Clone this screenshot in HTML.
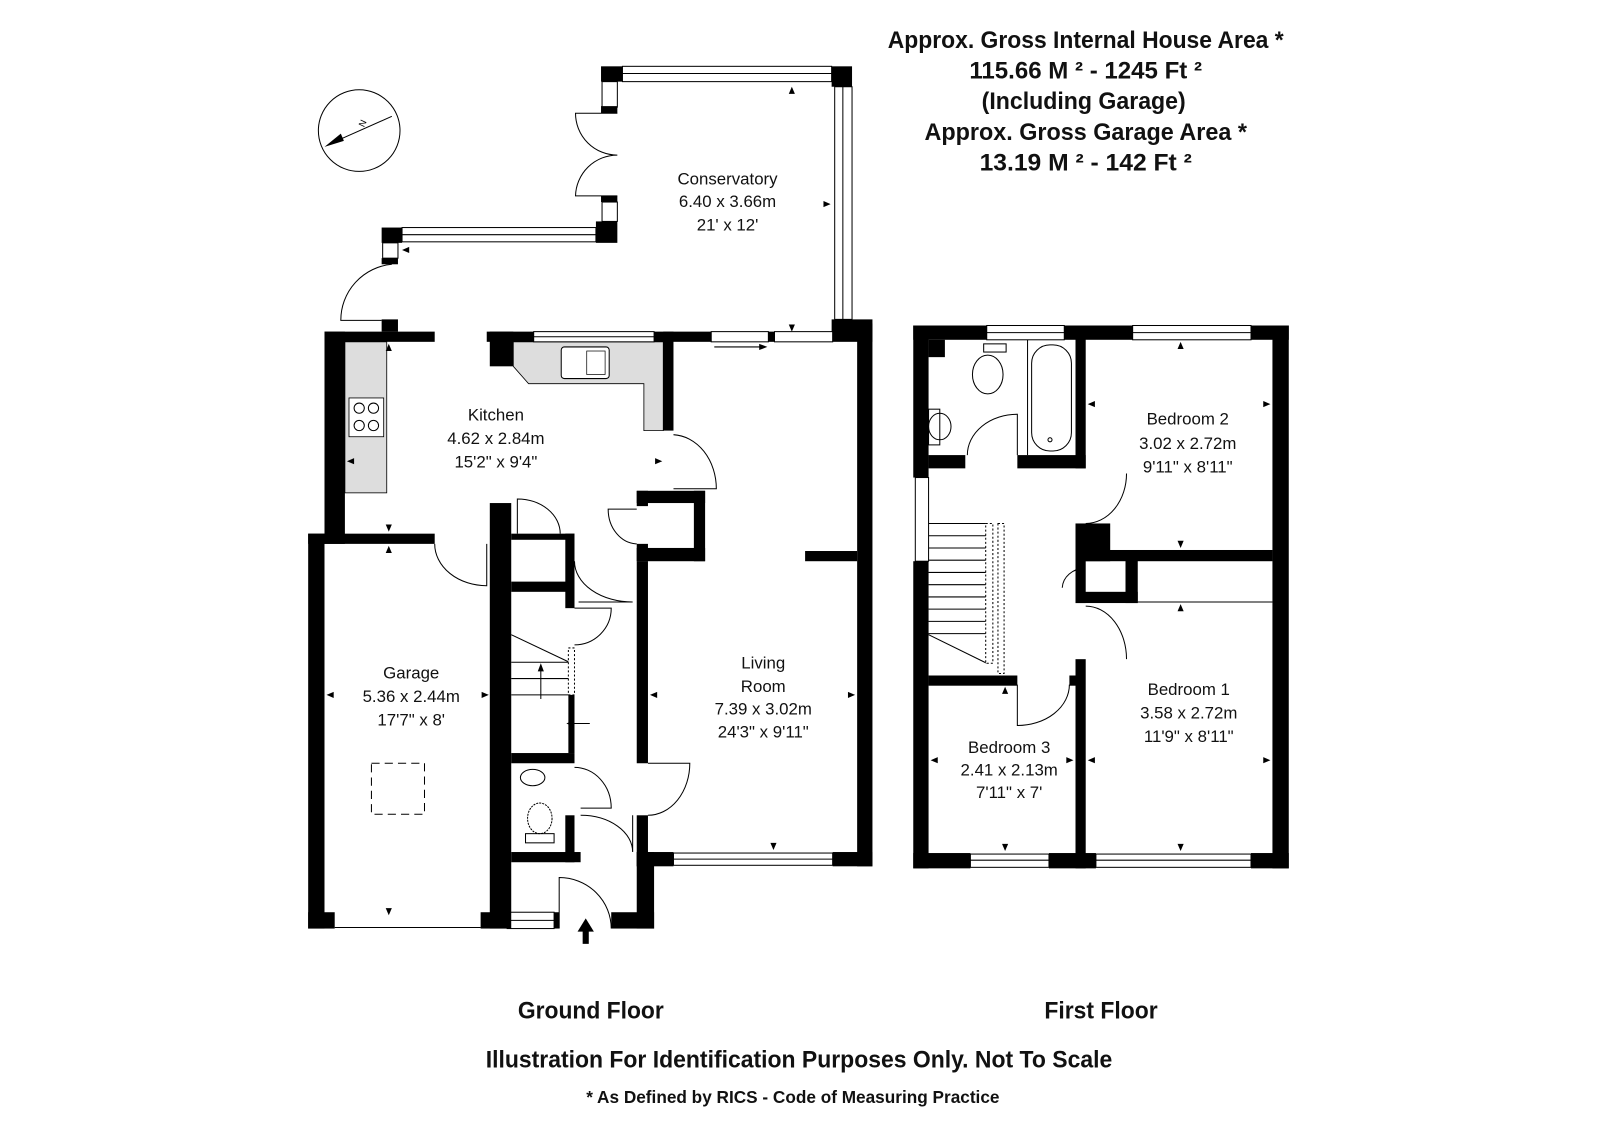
<!DOCTYPE html>
<html><head><meta charset="utf-8"><style>
html,body{margin:0;padding:0;background:#fff;}
svg{display:block;}
.t{font-family:"Liberation Sans Narrow","Liberation Sans",sans-serif;font-weight:bold;fill:#111;text-anchor:middle;}
.r{font-family:"Liberation Sans",sans-serif;fill:#111;text-anchor:middle;font-size:16.5px;}
.w{fill:#000;}
.win{fill:#fff;stroke:#000;stroke-width:1;}
.ln{fill:none;stroke:#000;stroke-width:1;}
.k{fill:#ddd;stroke:#000;stroke-width:0.8;}
</style></head><body>
<svg width="1600" height="1131" viewBox="0 0 1568 1108.4" xmlns="http://www.w3.org/2000/svg">
<rect width="1568" height="1109" fill="#fff"/>

<!-- Headings -->
<text class="t" x="1064" y="47" font-size="24" textLength="388" lengthAdjust="spacingAndGlyphs">Approx. Gross Internal House Area *</text>
<text class="t" x="1064" y="77" font-size="24" textLength="228" lengthAdjust="spacingAndGlyphs">115.66 M ²  -  1245 Ft ²</text>
<text class="t" x="1062" y="107" font-size="24" textLength="200" lengthAdjust="spacingAndGlyphs">(Including Garage)</text>
<text class="t" x="1064" y="137" font-size="24" textLength="316" lengthAdjust="spacingAndGlyphs">Approx. Gross Garage Area *</text>
<text class="t" x="1064" y="167" font-size="24" textLength="208" lengthAdjust="spacingAndGlyphs">13.19 M ²  -  142 Ft ²</text>

<text class="t" x="579" y="998" font-size="24" textLength="143" lengthAdjust="spacingAndGlyphs">Ground Floor</text>
<text class="t" x="1079" y="998" font-size="24" textLength="111" lengthAdjust="spacingAndGlyphs">First Floor</text>
<text class="t" x="783" y="1046" font-size="24" textLength="614" lengthAdjust="spacingAndGlyphs">Illustration For Identification Purposes Only. Not To Scale</text>
<text class="t" x="777" y="1081" font-size="17" textLength="405" lengthAdjust="spacingAndGlyphs">* As Defined by RICS - Code of Measuring Practice</text>

<!-- Compass -->
<circle cx="352" cy="128" r="40" class="ln"/>
<line x1="384" y1="114" x2="330" y2="138" class="ln"/>
<polygon points="318,144 334,131 337,138" fill="#000"/>
<text x="356" y="128" font-size="9" font-family="Liberation Sans" transform="rotate(-65 354 126)">N</text>

<!-- ============ CONSERVATORY ============ -->
<rect class="w" x="589" y="65" width="21" height="15"/>
<rect class="win" x="610" y="65" width="205" height="15"/><line class="ln" x1="610" y1="72" x2="815" y2="72"/>
<rect class="w" x="815" y="65" width="20" height="20"/>
<rect class="win" x="818" y="85" width="17" height="228"/><line class="ln" x1="826" y1="85" x2="826" y2="313"/>
<rect class="w" x="815" y="313" width="40" height="22"/>
<rect class="win" x="590" y="80" width="15" height="25"/><rect class="w" x="589" y="104" width="16" height="7"/>
<path class="ln" d="M605 111 H564 A41 41 0 0 0 605 152 A41 41 0 0 0 564 192 H605"/>
<rect class="w" x="589" y="192" width="16" height="6"/>
<rect class="win" x="590" y="198" width="15" height="19"/>
<rect class="w" x="584" y="217" width="21" height="21"/>
<rect class="win" x="394" y="223" width="190" height="14"/><line class="ln" x1="394" y1="230" x2="584" y2="230"/>
<rect class="w" x="374" y="223" width="20" height="15"/>
<rect class="win" x="375" y="238" width="15" height="15"/>
<rect class="w" x="374" y="253" width="16" height="6"/>
<path class="ln" d="M384 259 A55 55 0 0 0 334 314 H374"/>
<rect class="w" x="374" y="313" width="16" height="12"/>
<text class="r" x="713" y="181">Conservatory</text>
<text class="r" x="713" y="203">6.40 x 3.66m</text>
<text class="r" x="713" y="226">21' x 12'</text>
<polygon points="776,85 773,92 779,92" fill="#000"/>
<polygon points="776,325 773,318 779,318" fill="#000"/>
<polygon points="814,200 807,197 807,203" fill="#000"/>
<polygon points="394,245 401,242 401,248" fill="#000"/>

<!-- ============ GROUND FLOOR ============ -->
<!-- kitchen fittings -->
<rect class="k" x="338" y="335" width="41" height="148"/>
<rect x="342" y="390" width="34" height="38" fill="#fff" stroke="#000" stroke-width="0.8"/>
<circle class="ln" cx="352" cy="400" r="5"/><circle class="ln" cx="366" cy="400" r="5"/>
<circle class="ln" cx="352" cy="417" r="5"/><circle class="ln" cx="366" cy="417" r="5"/>
<path class="k" d="M503 335 H650 V422 H631 V376 H518 L503 359 Z"/>
<rect x="550" y="340" width="47" height="31" rx="3" fill="#fff" stroke="#000"/>
<rect x="575" y="344" width="18" height="23" fill="none" stroke="#000" stroke-width="0.7"/>
<!-- kitchen walls -->
<rect class="w" x="318" y="325" width="108" height="10"/>
<rect class="w" x="318" y="325" width="20" height="208"/>
<rect class="w" x="477" y="325" width="46" height="10"/>
<rect class="w" x="480" y="325" width="23" height="34"/>
<rect class="win" x="523" y="325" width="118" height="10"/><line class="ln" x1="523" y1="330" x2="641" y2="330"/>
<rect class="w" x="641" y="325" width="56" height="10"/>
<rect class="win" x="697" y="325" width="56" height="10"/>
<line class="ln" x1="700" y1="340" x2="745" y2="340"/><polygon points="752,340 744,337 744,343" fill="#000"/>
<rect class="w" x="753" y="325" width="6" height="10"/>
<rect class="win" x="759" y="325" width="57" height="10"/>
<rect class="w" x="650" y="325" width="10" height="97"/>
<path class="ln" d="M660 426 A44 53 0 0 1 702 479 H660"/>
<!-- cupboard box -->
<rect class="w" x="624" y="481" width="67" height="12"/>
<rect class="w" x="680" y="481" width="11" height="69"/>
<rect class="w" x="624" y="537" width="67" height="13"/>
<rect class="w" x="624" y="481" width="11" height="15"/>
<rect class="w" x="624" y="533" width="11" height="17"/>
<path class="ln" d="M624 499 H596 A29 34 0 0 0 624 533"/>
<!-- garage -->
<rect class="w" x="302" y="523" width="124" height="10"/>
<rect class="w" x="302" y="523" width="16" height="387"/>
<path class="ln" d="M426 533 A51 41 0 0 0 477 574 V533"/>
<rect class="w" x="302" y="894" width="26" height="16"/>
<line class="ln" x1="328" y1="909" x2="471" y2="909"/>
<rect class="w" x="471" y="894" width="26" height="16"/>
<rect class="win" x="497" y="894" width="46" height="16"/><line class="ln" x1="497" y1="902" x2="543" y2="902"/>
<rect class="w" x="543" y="894" width="5" height="16"/>
<path class="ln" d="M548 910 V860 A51 50 0 0 1 599 910"/>
<rect class="w" x="599" y="894" width="42" height="16"/>
<rect class="w" x="624" y="835" width="17" height="75"/>
<rect x="364" y="748" width="52" height="50" fill="none" stroke="#000" stroke-dasharray="8,5"/>
<text class="r" x="403" y="665">Garage</text>
<text class="r" x="403" y="688">5.36 x 2.44m</text>
<text class="r" x="403" y="711">17'7" x 8'</text>
<!-- central wall -->
<rect class="w" x="480" y="493" width="21" height="417"/>
<rect class="w" x="501" y="523" width="62" height="6"/>
<rect class="w" x="554" y="523" width="9" height="73"/>
<rect class="w" x="501" y="570" width="62" height="10"/>
<path class="ln" d="M507 523 V489 A42 34 0 0 1 549 523"/>
<path class="ln" d="M563 550 A57 40 0 0 0 620 590 H567"/>
<path class="ln" d="M563 596 H599 A36 36 0 0 1 563 632"/>
<!-- stairs -->
<line class="ln" x1="501" y1="622" x2="558" y2="649"/>
<line class="ln" x1="501" y1="649" x2="558" y2="649"/>
<line class="ln" x1="501" y1="665" x2="558" y2="665"/>
<line class="ln" x1="501" y1="681" x2="558" y2="681"/>
<rect x="557" y="635" width="6" height="46" fill="#fff" stroke="#000" stroke-dasharray="2,2"/>
<line class="ln" x1="530" y1="685" x2="530" y2="655"/><polygon points="530,650 527,658 533,658" fill="#000"/>
<line class="ln" x1="560" y1="709" x2="578" y2="709"/><polygon points="555,709 562,706 562,712" fill="#000"/>
<rect class="w" x="557" y="681" width="6" height="57"/>
<rect class="w" x="501" y="738" width="62" height="10"/>
<!-- WC -->
<ellipse class="ln" cx="522" cy="762" rx="12" ry="8"/>
<ellipse cx="529" cy="802" rx="12" ry="15" fill="#fff" stroke="#000" stroke-dasharray="2,1"/>
<rect class="ln" x="515" y="817" width="28" height="9"/>
<rect class="w" x="554" y="799" width="9" height="46"/>
<rect class="w" x="501" y="835" width="68" height="10"/>
<path class="ln" d="M563 752 A36 40 0 0 1 599 792 H569"/>
<path class="ln" d="M569 799 A51 36 0 0 1 620 835 V799"/>
<polygon points="574,900 566,913 582,913" fill="#000"/><rect x="571" y="912" width="6" height="13" fill="#000"/>
<!-- living room -->
<rect class="w" x="624" y="550" width="11" height="198"/>
<rect class="w" x="624" y="799" width="11" height="50"/>
<path class="ln" d="M635 748 H676 A41 51 0 0 1 635 799"/>
<rect class="w" x="624" y="835" width="36" height="14"/>
<rect class="win" x="660" y="836" width="156" height="12"/><line class="ln" x1="660" y1="842" x2="816" y2="842"/>
<rect class="w" x="816" y="835" width="39" height="14"/>
<rect class="w" x="840" y="317" width="15" height="532"/>
<rect class="w" x="789" y="540" width="51" height="10"/>
<text class="r" x="748" y="655">Living</text>
<text class="r" x="748" y="678">Room</text>
<text class="r" x="748" y="700">7.39 x 3.02m</text>
<text class="r" x="748" y="723">24'3" x 9'11"</text>
<text class="r" x="486" y="412">Kitchen</text>
<text class="r" x="486" y="435">4.62 x 2.84m</text>
<text class="r" x="486" y="458">15'2" x 9'4"</text>
<!-- small arrows -->
<g fill="#000">
<polygon points="381,337 378,344 384,344"/><polygon points="381,521 378,514 384,514"/>
<polygon points="381,535 378,542 384,542"/><polygon points="381,897 378,890 384,890"/>
<polygon points="340,452 347,449 347,455"/><polygon points="649,452 642,449 642,455"/>
<polygon points="320,681 327,678 327,684"/><polygon points="479,681 472,678 472,684"/>
<polygon points="637,681 644,678 644,684"/><polygon points="838,681 831,678 831,684"/>
<polygon points="758,833 755,826 761,826"/>
</g>

<!-- ============ FIRST FLOOR ============ -->
<rect class="w" x="895" y="319" width="72" height="14"/>
<rect class="win" x="967" y="319" width="76" height="14"/><line class="ln" x1="967" y1="326" x2="1043" y2="326"/>
<rect class="w" x="1043" y="319" width="67" height="14"/>
<rect class="win" x="1110" y="319" width="116" height="14"/><line class="ln" x1="1110" y1="326" x2="1226" y2="326"/>
<rect class="w" x="1226" y="319" width="37" height="14"/>
<rect class="w" x="895" y="319" width="15" height="149"/>
<rect class="win" x="897" y="468" width="13" height="82"/>
<rect class="w" x="895" y="550" width="15" height="301"/>
<rect class="w" x="910" y="333" width="16" height="17"/>
<rect class="w" x="1247" y="319" width="16" height="532"/>
<rect class="w" x="895" y="836" width="56" height="15"/>
<rect class="win" x="951" y="837" width="77" height="13"/><line class="ln" x1="951" y1="843" x2="1028" y2="843"/>
<rect class="w" x="1028" y="836" width="46" height="15"/>
<rect class="win" x="1074" y="837" width="152" height="13"/><line class="ln" x1="1074" y1="843" x2="1226" y2="843"/>
<rect class="w" x="1226" y="836" width="37" height="15"/>
<!-- bathroom -->
<rect class="w" x="910" y="446" width="36" height="13"/>
<rect class="w" x="997" y="446" width="67" height="13"/>
<rect class="w" x="1054" y="319" width="10" height="140"/>
<line class="ln" x1="1007" y1="333" x2="1007" y2="446"/>
<rect class="ln" x="1011" y="338" width="39" height="104" rx="18"/>
<circle class="ln" cx="1029" cy="431" r="2"/>
<rect class="ln" x="964" y="337" width="22" height="8"/>
<ellipse class="ln" cx="968" cy="367" rx="15" ry="19"/>
<rect class="ln" x="910" y="401" width="11" height="35"/>
<ellipse class="ln" cx="921" cy="418" rx="11" ry="13"/>
<path class="ln" d="M948 446 A49 40 0 0 1 997 406 V446"/>
<!-- bedroom 2 / cupboard -->
<rect class="w" x="1054" y="513" width="34" height="37"/>
<rect class="w" x="1054" y="539" width="193" height="11"/>
<rect class="w" x="1103" y="549" width="12" height="42"/>
<rect class="w" x="1054" y="580" width="61" height="11"/>
<rect class="w" x="1054" y="549" width="10" height="42"/>
<line class="ln" x1="1115" y1="590" x2="1247" y2="590"/>
<path class="ln" d="M1104 464 A40 49 0 0 1 1064 513"/>
<path class="ln" d="M1041 576 A22 20 0 0 1 1063 557"/>
<path class="ln" d="M1064 594 A40 52 0 0 1 1104 646"/>
<rect class="w" x="1054" y="646" width="10" height="205"/>
<!-- stairs FF -->
<g stroke="#000" stroke-width="1">
<line x1="910" y1="513" x2="967" y2="513"/><line x1="910" y1="525" x2="967" y2="525"/>
<line x1="910" y1="537" x2="967" y2="537"/><line x1="910" y1="549" x2="967" y2="549"/>
<line x1="910" y1="561" x2="967" y2="561"/><line x1="910" y1="573" x2="967" y2="573"/>
<line x1="910" y1="585" x2="967" y2="585"/><line x1="910" y1="597" x2="967" y2="597"/>
<line x1="910" y1="609" x2="967" y2="609"/><line x1="910" y1="621" x2="967" y2="621"/>
<line x1="910" y1="622" x2="967" y2="650"/>
</g>
<rect x="966" y="513" width="7" height="137" fill="#fff" stroke="#000" stroke-dasharray="2,2"/>
<rect x="978" y="513" width="6" height="147" fill="#fff" stroke="#000" stroke-dasharray="2,2"/>
<!-- bedroom 3 -->
<rect class="w" x="910" y="662" width="87" height="10"/>
<rect class="w" x="1048" y="662" width="6" height="10"/>
<path class="ln" d="M997 671 V711 A51 40 0 0 0 1048 671"/>
<text class="r" x="1164" y="416">Bedroom 2</text>
<text class="r" x="1164" y="440">3.02 x 2.72m</text>
<text class="r" x="1164" y="463">9'11" x 8'11"</text>
<text class="r" x="1165" y="681">Bedroom 1</text>
<text class="r" x="1165" y="704">3.58 x 2.72m</text>
<text class="r" x="1165" y="727">11'9" x 8'11"</text>
<text class="r" x="989" y="738">Bedroom 3</text>
<text class="r" x="989" y="760">2.41 x 2.13m</text>
<text class="r" x="989" y="782">7'11" x 7'</text>
<g fill="#000">
<polygon points="1157,335 1154,342 1160,342"/><polygon points="1157,537 1154,530 1160,530"/>
<polygon points="1066,396 1073,393 1073,399"/><polygon points="1245,396 1238,393 1238,399"/>
<polygon points="1157,592 1154,599 1160,599"/><polygon points="1157,834 1154,827 1160,827"/>
<polygon points="1066,745 1073,742 1073,748"/><polygon points="1245,745 1238,742 1238,748"/>
<polygon points="985,673 982,680 988,680"/><polygon points="985,834 982,827 988,827"/>
<polygon points="912,745 919,742 919,748"/><polygon points="1052,745 1045,742 1045,748"/>
</g>
</svg>
</body></html>
